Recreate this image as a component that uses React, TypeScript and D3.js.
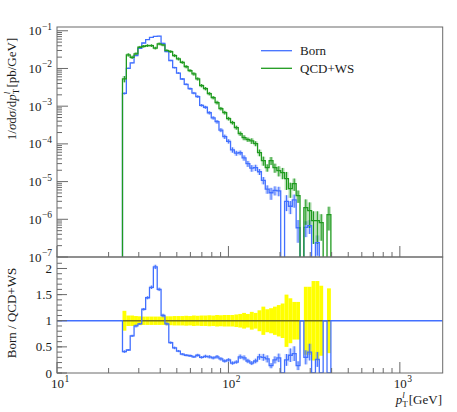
import React from 'react';
import * as d3 from 'd3';

// ---------- data ----------
// histogram binning in p_T^l [GeV]
const binLow = 24.1;
const binHigh = 396;
const nBins = 54;

// QCD+WS : 1/sigma dsigma/dpT [pb/GeV]
const qcdWS = [
  5.30e-3, 2.30e-2, 1.98e-2, 2.44e-2, 3.65e-2, 3.88e-2, 4.05e-2, 4.05e-2, 3.48e-2, 4.50e-2,
  4.23e-2, 2.98e-2, 2.81e-2, 2.20e-2, 1.80e-2, 1.46e-2, 1.12e-2, 8.8e-3, 7.19e-3, 5.30e-3,
  3.52e-3, 2.93e-3, 2.16e-3, 1.69e-3, 1.25e-3, 8.63e-4, 6.76e-4, 4.69e-4, 3.67e-4, 2.71e-4,
  1.88e-4, 1.47e-4, 1.30e-4, 1.20e-4, 1.02e-4, 5.88e-5, 3.61e-5, 2.35e-5, 3.61e-5, 2.35e-5,
  1.96e-5, 1.73e-5, 1.20e-5, 6.52e-6, 8.85e-6, 4.26e-6, 0, 2.04e-6, 1.70e-6, 9.25e-7,
  9.25e-7, 8.18e-7, 0, 1.33e-6,
];
// Born / QCD+WS ratio (as drawn in the lower panel)
const ratioBorn = [
  0.41, 0.44, 0.71, 0.90, 0.94, 1.22, 1.44, 1.64, 2.03, 1.60,
  1.10, 0.94, 0.58, 0.48, 0.42, 0.36, 0.34, 0.33, 0.31, 0.34,
  0.30, 0.32, 0.31, 0.29, 0.31, 0.27, 0.23, 0.25, 0.19, 0.21,
  0.31, 0.29, 0.23, 0.19, 0.23, 0.31, 0.30, 0.27, 0.14, 0.25,
  0.29, 0, 0.25, 0.34, 0.37, 0.14, 1, 0.30, 0.40, 0,
  0.26, 0, 1, 0,
];
// relative uncertainty of QCD+WS (yellow band)
const qcdErr = [
  0.19, 0.10, 0.10, 0.09, 0.085, 0.08, 0.08, 0.08, 0.08, 0.08,
  0.08, 0.085, 0.085, 0.09, 0.09, 0.09, 0.095, 0.09, 0.10, 0.095,
  0.10, 0.10, 0.105, 0.10, 0.11, 0.105, 0.11, 0.11, 0.11, 0.12,
  0.13, 0.15, 0.13, 0.17, 0.15, 0.20, 0.27, 0.22, 0.24, 0.27,
  0.30, 0.33, 0.50, 0.43, 0.36, 0.36, 0, 0.65, 0.65, 0.76,
  0.76, 0.67, 0, 0.62,
];
// relative uncertainty of Born
const bornErr = [
  0.06, 0.04, 0.03, 0.03, 0.02, 0.02, 0.02, 0.02, 0.02, 0.02,
  0.03, 0.03, 0.04, 0.05, 0.05, 0.06, 0.06, 0.07, 0.07, 0.08,
  0.08, 0.09, 0.10, 0.10, 0.11, 0.12, 0.13, 0.13, 0.16, 0.15,
  0.14, 0.16, 0.18, 0.20, 0.19, 0.18, 0.22, 0.25, 0.35, 0.27,
  0.28, 0, 0.45, 0.38, 0.38, 0.6, 0, 0.45, 0.40, 0,
  0.55, 0, 0, 0,
];

const topExponents = [-1, -2, -3, -4, -5, -6, -7];
const ratioTicks = [0, 0.5, 1, 1.5, 2];
const xExponents = [1, 2, 3];
const seriesNames = ['Born', 'QCD+WS'];

const BLUE = '#4270ff';
const GREEN = '#1e9a1e';
const FRAME = '#6a6a6a';
const TXT = '#1a1a1a';
const FONT = "'Liberation Serif', 'DejaVu Serif', serif";

export default function App() {
  const L = 57, R = 442.7, T = 27, M = 257, B = 373;
  const x = d3.scaleLog().domain([10, Math.pow(10, 3.25)]).range([L, R]);
  const yTop = d3.scaleLog().domain([1e-7, Math.pow(10, -0.9)]).range([M, T]);
  const yRat = d3.scaleLinear().domain([0, 2.22]).range([B, M]);

  const edges = d3.range(nBins + 1).map((i) => binLow * Math.pow(binHigh / binLow, i / nBins));
  const born = qcdWS.map((q, i) => q * ratioBorn[i]);

  const floorY = M + 8;
  const yv = (v: number) => (v > 0 ? yTop(v) : floorY);

  const stepTop = (vals: number[]) => {
    let p = `M${x(edges[0])},${floorY}`;
    vals.forEach((v, i) => {
      p += `L${x(edges[i])},${yv(v)}L${x(edges[i + 1])},${yv(v)}`;
    });
    p += `L${x(edges[nBins])},${floorY}`;
    return p;
  };

  const ratioPath = () => {
    let p = `M${L},${yRat(1)}L${x(edges[0])},${yRat(1)}`;
    ratioBorn.forEach((r, i) => {
      p += `L${x(edges[i])},${yRat(r)}L${x(edges[i + 1])},${yRat(r)}`;
    });
    p += `L${x(edges[nBins])},${yRat(1)}L${R},${yRat(1)}`;
    return p;
  };

  const errMarks = (vals: number[], errs: number[], color: string, key: string) =>
    vals.map((v, i) => {
      if (!(v > 0) || !(errs[i] > 0)) return null;
      const x0 = x(edges[i]);
      const x1 = x(edges[i + 1]);
      const xc = x(Math.sqrt(edges[i] * edges[i + 1]));
      const y0 = yTop(v * (1 + errs[i]));
      const y1 = yTop(Math.max(v * (1 - errs[i]), 1e-9));
      return (
        <g key={key + i}>
          <rect x={x0} y={y0} width={x1 - x0} height={y1 - y0} fill={color} opacity={0.3} />
          <line x1={xc} x2={xc} y1={y0} y2={y1} stroke={color} strokeWidth={1} />
        </g>
      );
    });

  // ticks
  const topMinor: number[] = [];
  for (let k = -7; k <= -1; k++) for (let m = 2; m <= 9; m++) {
    const v = m * Math.pow(10, k);
    if (v < Math.pow(10, -0.9)) topMinor.push(v);
  }
  const xMinor: number[] = [];
  for (let k = 1; k <= 3; k++) for (let m = 2; m <= 9; m++) {
    const v = m * Math.pow(10, k);
    if (v < Math.pow(10, 3.25)) xMinor.push(v);
  }
  const ratMinor = d3.range(0, 22).map((i) => i * 0.1);

  return (
    <svg width={457} height={412} style={{ position: 'absolute', left: 0, top: 0, background: '#fff' }} fontFamily={FONT}>
      <defs>
        <clipPath id="clipTop"><rect x={L} y={T} width={R - L} height={M - T} /></clipPath>
        <clipPath id="clipRat"><rect x={L} y={M} width={R - L} height={B - M} /></clipPath>
      </defs>

      {/* ---------- top panel ---------- */}
      <g clipPath="url(#clipTop)">
        {errMarks(born, bornErr, BLUE, 'be')}
        {errMarks(qcdWS, qcdErr, GREEN, 'qe')}
        <path d={stepTop(born)} fill="none" stroke={BLUE} strokeWidth={1.3} />
        <path d={stepTop(qcdWS)} fill="none" stroke={GREEN} strokeWidth={1.3} />
      </g>

      {/* ---------- ratio panel ---------- */}
      <g clipPath="url(#clipRat)">
        {qcdWS.map((q, i) =>
          q > 0 ? (
            <rect key={'y' + i} x={x(edges[i])} width={x(edges[i + 1]) - x(edges[i])}
              y={yRat(1 + qcdErr[i])} height={yRat(1 - qcdErr[i]) - yRat(1 + qcdErr[i])} fill="#ffff00" />
          ) : null
        )}
        <line x1={x(edges[0])} x2={x(edges[nBins])} y1={yRat(1)} y2={yRat(1)} stroke="#77771c" strokeWidth={1.6} />
        {ratioBorn.map((r, i) => {
          if (!(qcdWS[i] > 0) || !(bornErr[i] > 0) || !(r > 0)) return null;
          const x0 = x(edges[i]);
          const x1 = x(edges[i + 1]);
          const xc = x(Math.sqrt(edges[i] * edges[i + 1]));
          const y0 = yRat(r * (1 + bornErr[i]));
          const y1 = yRat(r * (1 - bornErr[i]));
          return (
            <g key={'re' + i}>
              <rect x={x0} y={y0} width={x1 - x0} height={y1 - y0} fill={BLUE} opacity={0.3} />
              <line x1={xc} x2={xc} y1={y0} y2={y1} stroke={BLUE} strokeWidth={1} />
            </g>
          );
        })}
        <path d={ratioPath()} fill="none" stroke={BLUE} strokeWidth={1.3} />
      </g>

      {/* ---------- frames ---------- */}
      <rect x={L} y={T} width={R - L} height={M - T} fill="none" stroke={FRAME} strokeWidth={1} />
      <rect x={L} y={M} width={R - L} height={B - M} fill="none" stroke={FRAME} strokeWidth={1} />

      {/* top y ticks */}
      {topExponents.map((e) => (
        <line key={'tM' + e} x1={L} x2={L + 11} y1={yTop(Math.pow(10, e))} y2={yTop(Math.pow(10, e))} stroke={FRAME} />
      ))}
      {topMinor.map((v, i) => (
        <line key={'tm' + i} x1={L} x2={L + 5} y1={yTop(v)} y2={yTop(v)} stroke={FRAME} />
      ))}
      {topExponents.map((e) => (
        <text key={'tl' + e} x={52} y={yTop(Math.pow(10, e)) + 4.5} textAnchor="end" fontSize={13} fill={TXT}>
          10<tspan dx={0.5} dy={-5.5} fontSize={9.5}>{'\u2212' + Math.abs(e)}</tspan>
        </text>
      ))}

      {/* ratio y ticks */}
      {ratMinor.map((v, i) => (
        <line key={'rm' + i} x1={L} x2={L + 5} y1={yRat(v)} y2={yRat(v)} stroke={FRAME} />
      ))}
      {ratioTicks.map((v) => (
        <line key={'rM' + v} x1={L} x2={L + 10} y1={yRat(v)} y2={yRat(v)} stroke={FRAME} />
      ))}
      {ratioTicks.map((v) => (
        <text key={'rl' + v} x={52} y={yRat(v) + 4.5} textAnchor="end" fontSize={13} fill={TXT}>{String(v)}</text>
      ))}

      {/* x ticks (both panels) */}
      {[M, B].map((yb) => (
        <g key={'xt' + yb}>
          {xExponents.map((e) => (
            <line key={'xM' + e} x1={x(Math.pow(10, e))} x2={x(Math.pow(10, e))} y1={yb} y2={yb - 11} stroke={FRAME} />
          ))}
          {xMinor.map((v, i) => (
            <line key={'xm' + i} x1={x(v)} x2={x(v)} y1={yb} y2={yb - 5} stroke={FRAME} />
          ))}
        </g>
      ))}
      {xExponents.map((e) => (
        <text key={'xl' + e} x={x(Math.pow(10, e)) + 3} y={387.5} textAnchor="middle" fontSize={13} fill={TXT}>
          10<tspan dx={0.5} dy={-5.5} fontSize={9.5}>{String(e)}</tspan>
        </text>
      ))}

      {/* axis labels */}
      <text x={442} y={404} textAnchor="end" fontSize={13} fill={TXT}>
        <tspan fontStyle="italic">p</tspan>
        <tspan dy={3} fontSize={9}>T</tspan>
        <tspan dx={-5.5} dy={-9.5} fontSize={9} fontStyle="italic">l</tspan>
        <tspan dx={4} dy={6.5}>[GeV]</tspan>
      </text>
      <text transform="translate(16,89) rotate(-90)" textAnchor="middle" fontSize={13} fill={TXT}>
        1/<tspan fontStyle="italic">σ</tspan>d<tspan fontStyle="italic">σ</tspan>/d<tspan fontStyle="italic">p</tspan>
        <tspan dy={3} fontSize={9}>T</tspan>
        <tspan dx={-5.5} dy={-9.5} fontSize={9} fontStyle="italic">l</tspan>
        <tspan dx={4} dy={6.5}>[pb/GeV]</tspan>
      </text>
      <text transform="translate(16,313) rotate(-90)" textAnchor="middle" fontSize={13} fill={TXT}>
        Born / QCD+WS
      </text>

      {/* legend */}
      {seriesNames.map((n, i) => (
        <g key={'lg' + n}>
          <line x1={261} x2={292} y1={50.7 + i * 17.6} y2={50.7 + i * 17.6} stroke={i === 0 ? BLUE : GREEN} strokeWidth={1.3} />
          <text x={300} y={55} fontSize={13} fill={TXT} dy={i * 17.6}>{n}</text>
        </g>
      ))}
    </svg>
  );
}
